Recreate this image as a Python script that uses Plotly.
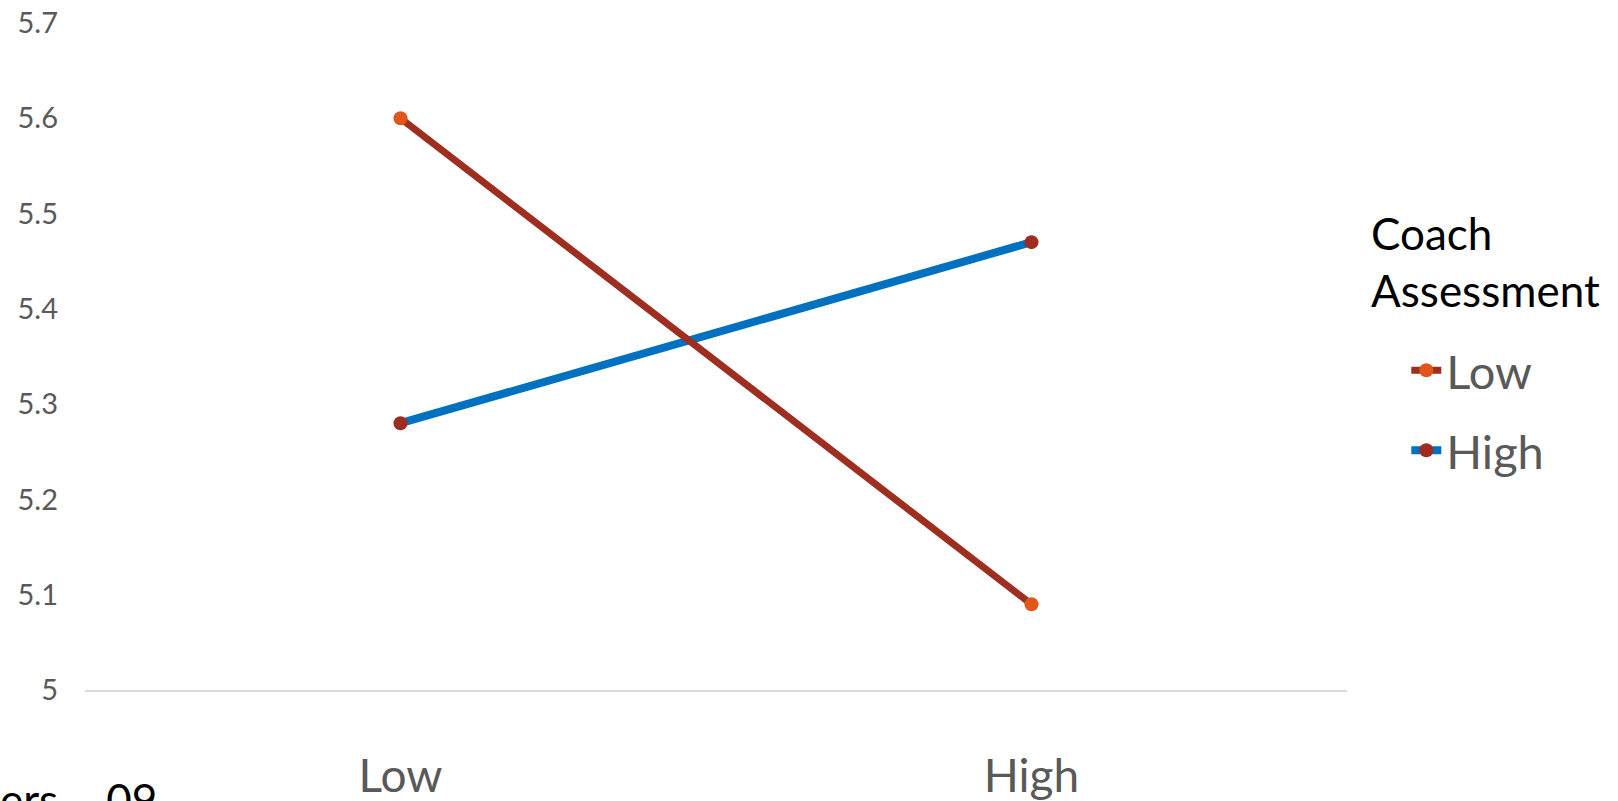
import plotly.graph_objects as go

# Interaction plot: player self-rating by coach assessment
categories = ["Low", "High"]
coach_low = [5.6, 5.09]
coach_high = [5.28, 5.47]
y_ticks = [5.0, 5.1, 5.2, 5.3, 5.4, 5.5, 5.6, 5.7]
y_tick_text = ["5", "5.1", "5.2", "5.3", "5.4", "5.5", "5.6", "5.7"]

FONT = "Lato"
GREY = "#595959"

fig = go.Figure()
# "High" drawn first so the "Low" line sits on top where they cross
fig.add_trace(go.Scatter(
    x=categories, y=coach_high, name="High", mode="lines+markers",
    legendgroup="high", legendrank=2,
    line=dict(color="#0070C0", width=8),
    marker=dict(color="#A02B1F", size=14),
))
fig.add_trace(go.Scatter(
    x=categories, y=coach_low, name="Low", mode="lines+markers",
    legendgroup="low", legendrank=1,
    line=dict(color="#9E2F20", width=7),
    marker=dict(color="#E0561B", size=14),
))

fig.update_layout(
    width=1618, height=801,
    margin=dict(l=85, r=271, t=23, b=111),
    paper_bgcolor="white", plot_bgcolor="white",
    font=dict(family=FONT, color=GREY),
    showlegend=True,
    legend=dict(
        font=dict(size=47, color=GREY, family=FONT),
        x=1.047, xanchor="left", y=0.535, yanchor="top",
        bgcolor="rgba(0,0,0,0)", tracegroupgap=16,
    ),
    xaxis=dict(
        type="category", range=[-0.5, 1.5], showgrid=False, zeroline=False,
        showline=True, linecolor="#D9D9D9", linewidth=1.5,
        ticks="", tickfont=dict(size=46, color=GREY, family=FONT),
        ticklabelstandoff=45, automargin=False,
    ),
    yaxis=dict(
        range=[5.0, 5.7], tickvals=y_ticks, ticktext=y_tick_text,
        showgrid=False, zeroline=False, showline=False,
        tickfont=dict(size=29, color=GREY, family=FONT),
        ticklabelstandoff=26, automargin=False,
    ),
    annotations=[
        dict(
            text="Coach<br>Assessment", xref="paper", yref="paper",
            x=(1369 - 85) / 1262, y=(690 - 205) / 667,
            xanchor="left", yanchor="top", align="left",
            showarrow=False, font=dict(size=44, color="black", family=FONT),
        ),
        dict(
            text="ers – 09", xref="paper", yref="paper",
            x=-0.069, y=-0.164, xanchor="left", yanchor="middle",
            showarrow=False, font=dict(size=44, color="black", family=FONT),
        ),
    ],
)

fig.write_html("out.html")
